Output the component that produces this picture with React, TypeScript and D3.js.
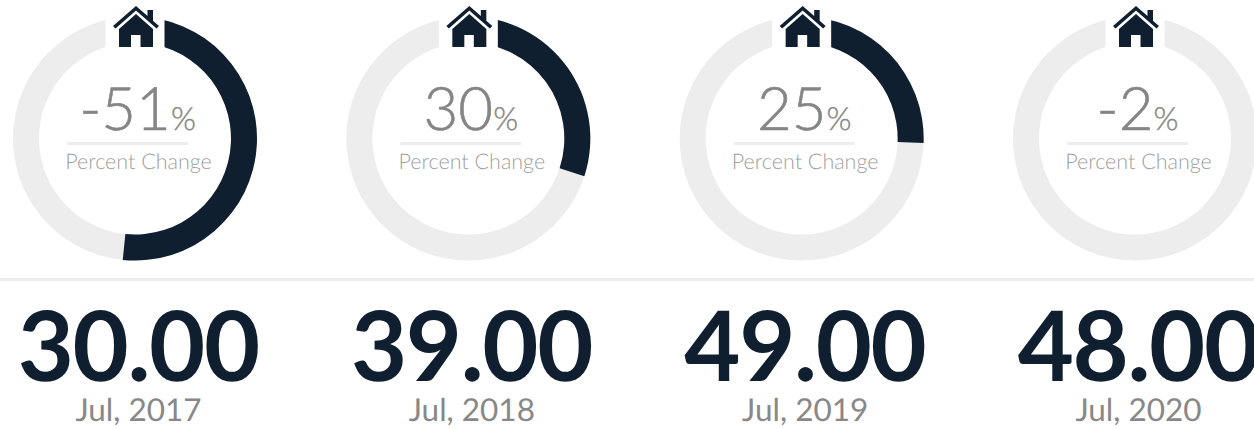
import React from "react";
import * as d3 from "d3";

const percentLabels = ["-51", "30", "25", "-2"];
const arcShares = [51.6, 30, 25.6, 2];
const prices = ["30.00", "39.00", "49.00", "48.00"];
const dates = ["Jul, 2017", "Jul, 2018", "Jul, 2019", "Jul, 2020"];
const subLabel = "Percent Change";

const DARK = "#0f1f2f";
const LIGHT = "#ededed";
const W = 1254, H = 429;

const xScale = d3.scaleLinear().domain([0, 3]).range([135, 1135]);
const angle = d3.scaleLinear().domain([0, 100]).range([0, 2 * Math.PI]);
const arcGen = d3.arc().innerRadius(96).outerRadius(122);

const HOME =
  "M1 -133 L24 -113 L21.5 -110.5 L1 -128.5 L-19.5 -110.5 L-22 -113 Z " +
  "M12.5 -129 H18 V-118 L12.5 -123 Z " +
  "M1 -125 L18 -110 V-92 H-16 V-110 Z";
const DOOR = "M-4 -104 H5.5 V-92 H-4 Z";

export default function App() {
  return (
    <svg width={W} height={H} style={{ position: "absolute", left: 0, top: 0, background: "#fff" }}
      fontFamily="Lato" textRendering="geometricPrecision">
      <rect x={0} y={278} width={W} height={3} fill={LIGHT} />
      {arcShares.map((share, i) => (
        <g key={i} transform={`translate(${xScale(i)},139)`} style={{ opacity: 0.999 }}>
          <g transform="translate(0,-0.5)">
            <path d={arcGen({ startAngle: 0, endAngle: 2 * Math.PI } as any) as string} fill={LIGHT} />
            <path d={arcGen({ startAngle: 0, endAngle: angle(share) } as any) as string} fill={DARK} />
          </g>
          <rect x={-29.5} y={-139} width={59} height={50} fill="#fff" />
          <path d={HOME} fill={DARK} />
          <path d={DOOR} fill="#fff" />
          <text x={2.5} y={-9} textAnchor="middle" fill="#858585" stroke="#858585" strokeWidth={0.6}
            fontWeight={300} fontSize={60}>
            {percentLabels[i]}<tspan fontSize={32} strokeWidth={0.4}>%</tspan>
          </text>
          <rect x={-68} y={3} width={121} height={3} fill={LIGHT} />
          <text x={3.5} y={29.5} textAnchor="middle" fill="#a0a0a0" fontWeight={300} fontSize={21.5}>{subLabel}</text>
          <text x={3.2} y={242} textAnchor="middle" fill={DARK} fontWeight={700} fontSize={97} letterSpacing={-1.4}>{prices[i]}</text>
          <text x={3.5} y={282} textAnchor="middle" fill="#888" fontWeight={400} fontSize={31.5}>{dates[i]}</text>
        </g>
      ))}
    </svg>
  );
}
